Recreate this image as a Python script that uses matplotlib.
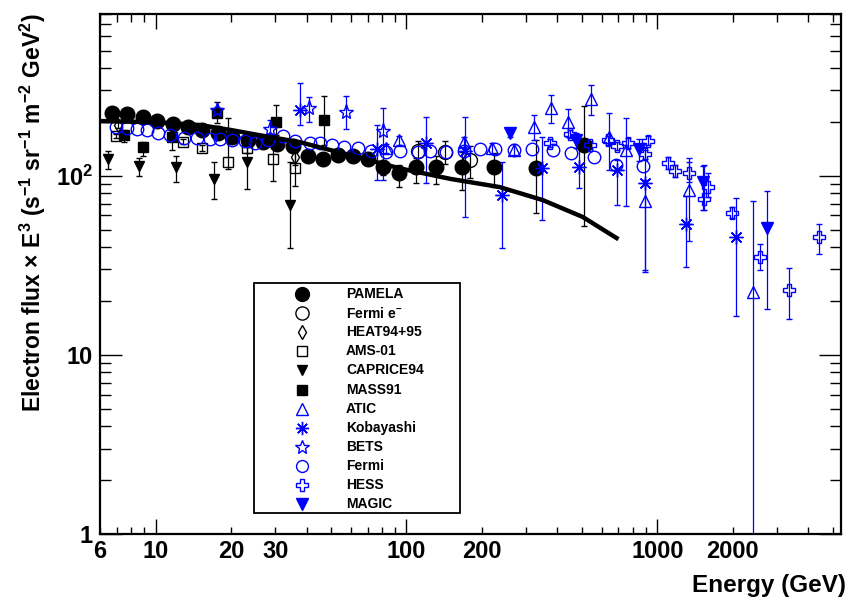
"""Electron spectrum (E^3 x flux) compilation, ROOT-style."""

import matplotlib

matplotlib.use("Agg")
import matplotlib.pyplot as plt
from matplotlib.lines import Line2D
from matplotlib.patches import Rectangle

plt.rcParams["font.family"] = ["Liberation Sans", "DejaVu Sans"]
plt.rcParams["font.weight"] = "bold"
plt.rcParams["mathtext.fontset"] = "custom"
plt.rcParams["mathtext.rm"] = "Liberation Sans:bold"
plt.rcParams["mathtext.bf"] = "Liberation Sans:bold"
plt.rcParams["mathtext.default"] = "rm"

BLUE = "#0000ff"

# ---- data (energy in GeV, E^3 * flux) -------------------------------------
pamela_e = [6.68, 7.71, 8.88, 10.15, 11.69, 13.45, 15.34, 17.67, 20.2, 23.4, 26.8, 30.6, 35.3,
            40.6, 46.6, 53.4, 61.3, 70.3, 80.7, 93, 109, 131, 166.5, 224, 327, 510]
pamela_f = [222.8, 220, 211.7, 202.8, 193.6, 187, 180, 172.4, 165, 158, 154.8, 150.3, 146.5,
            128.8, 123.9, 130.4, 128.8, 123.4, 111.4, 103.9, 111.4, 111.4, 111.6, 111.6, 110, 148.3]
pamela_lo = [3, 3, 3, 3, 3, 3, 3, 3, 3, 4, 4, 4, 5, 6, 7, 7, 8, 9, 10, 17, 20, 22, 28, 25, 48, 96]
pamela_hi = [3, 3, 3, 3, 3, 3, 3, 3, 3, 4, 4, 4, 5, 6, 7, 7, 8, 9, 10, 11, 14, 18, 24, 22, 48, 96]

fermi_em_e = [111.3, 142.1, 178.8]
fermi_em_f = [137.3, 136.1, 122.4]
fermi_em_lo = [20, 20, 25]
fermi_em_hi = [20, 20, 25]

heat_e = [7.1, 35.8]
heat_f = [191.8, 127.2]
heat_lo = [8, 12]
heat_hi = [8, 12]

ams_e = [6.93, 12.9, 15.3, 19.4, 23.1, 29.3, 35.9]
ams_f = [167, 154.8, 143.3, 119.7, 142.1, 123.4, 110]
ams_lo = [4, 5, 6, 10, 8, 30, 22]
ams_hi = [4, 5, 6, 90, 8, 47, 25]

caprice_e = [6.48, 8.61, 12.1, 17.1, 23.1, 34.3]
caprice_f = [123.9, 113.7, 111.4, 95.5, 119.7, 68.7]
caprice_lo = [14.9, 14.1, 18.9, 21.4, 35.7, 29.0]
caprice_hi = [13.4, 11.3, 17.4, 24.2, 35.1, 51.0]

mass_e = [7.5, 8.88, 11.6, 17.6, 30.3, 46.8]
mass_f = [168.6, 145.2, 163.7, 222.8, 198.6, 204.5]
mass_lo = [13.9, 16.4, 24.6, 26.8, 29.9, 56.2]
mass_hi = [11.2, 9.5, 20.8, 35.8, 49.4, 73.8]

atic_e = [83.2, 93.5, 169.7, 220, 268.5, 322.5, 375.8, 440.5, 545.8, 641.5, 747.5, 890, 1336, 2406]
atic_f = [142.1, 158, 154.8, 142.1, 140, 187.6, 237.6, 200, 266.7, 165, 139, 72.2, 83.2, 22.3]
atic_lo = [8, 9, 10, 10, 10, 29.4, 41.6, 34.9, 48.7, 57.4, 71.2, 43.1, 40, 22.0]
atic_hi = [8, 9, 10, 10, 10, 30.4, 44.3, 34.6, 53.8, 57.8, 70, 22.4, 36.5, 50.2]

koba_e = [37.6, 76.4, 120, 171.9, 241.3, 348.3, 486, 690.7, 890, 1301, 2065]
koba_f = [232.4, 140.3, 152.8, 137.3, 78, 110, 112.3, 107.6, 91.4, 53.8, 45.7]
koba_lo = [40.6, 45.7, 61.7, 78.2, 38.6, 53.4, 27.2, 39, 61.6, 22.7, 29.3]
koba_hi = [96.5, 51.5, 59.8, 75.3, 41.7, 55.1, 39.3, 14.8, 53.7, 23.3, 29.4]

bets_e = [17.6, 28.7, 40.8, 57.3, 80.3]
bets_f = [232.9, 181.5, 237.6, 227.6, 178.2]
bets_lo = [10, 19.2, 37.5, 46.1, 83.6]
bets_hi = [10, 22.9, 38.2, 50.7, 59.4]

fermi_e = [6.93, 7.67, 8.43, 9.21, 10.19, 11.41, 13.0, 14.61, 16.46, 18.05, 20.14, 22.7, 24.87,
           28.03, 32.07, 35.9, 41.2, 45.2, 50.5, 56.4, 64.2, 71.9, 82.5, 94.1, 111.3, 123.9,
           143.1, 169.7, 196, 224.8, 268.5, 317.8, 382.8, 451.6, 559.3, 686.8, 876.4]
fermi_f = [187.6, 183.8, 182.1, 179.8, 173.8, 168.7, 161.7, 162.3, 160.2, 159.6, 158.2, 156.2,
           151.6, 158.2, 166.5, 156.2, 152.8, 151.6, 148.3, 145.1, 142.1, 137.9, 136.1, 137.9,
           136.1, 137.9, 136.1, 137.9, 140.9, 140.9, 139.1, 140.4, 139.1, 133.3, 126.6, 114.7, 113.3]

hess_e = [372, 447, 537, 634, 690, 762, 920, 890, 1103, 1180, 1336, 1535, 1592, 1991, 2557, 3346, 4400]
hess_f = [152.8, 170.9, 148.3, 158.2, 146.5, 152.8, 156.7, 132.1, 117.2, 106.7, 103.1, 73.9, 86.8,
          62.2, 35.3, 23.0, 45.3]
hess_lo = [8, 9, 8, 9, 8, 9, 9, 8, 8.6, 8, 10.5, 9.5, 10.4, 4.3, 5.5, 7.2, 8.7]
hess_hi = [8, 9, 8, 9, 8, 9, 9, 8, 10.4, 8, 21.9, 40.8, 16.3, 5.0, 6.3, 7.7, 8.3]

magic_e = [258, 473, 845, 1521, 2742]
magic_f = [174, 158.2, 140.3, 92.6, 50.9]
magic_lo = [10, 15, 20, 28.2, 32.9]
magic_hi = [10, 15, 20, 21.1, 31.6]

model_e = [6, 10, 15, 20, 25, 37.6, 60, 94, 150, 235, 349, 504, 688]
model_f = [202, 199, 192, 180, 170, 154, 130, 110, 96, 86.5, 73.2, 58.9, 44.9]

x_major = [10, 100, 1000]
x_minor = [6, 7, 8, 9, 20, 30, 40, 50, 60, 70, 80, 90, 200, 300, 400, 500, 600, 700, 800, 900,
           2000, 3000, 4000, 5000]
x_minor_labels = {6: "6", 20: "20", 30: "30", 200: "200", 2000: "2000"}
y_major = [1, 10, 100]
y_major_labels = ["1", "10", r"10$^{2}$"]
y_minor = [2, 3, 4, 5, 6, 7, 8, 9, 20, 30, 40, 50, 60, 70, 80, 90, 200, 300, 400, 500, 600, 700, 800]

# ---- series styles -------------------------------------------------------
series = [
    ("PAMELA", pamela_e, pamela_f, pamela_lo, pamela_hi,
     dict(marker="o", ms=10.5, mfc="black", mec="black", color="black")),
    ("Fermi e$^{-}$", fermi_em_e, fermi_em_f, fermi_em_lo, fermi_em_hi,
     dict(marker="o", ms=10, mfc="none", mec="black", color="black")),
    ("HEAT94+95", heat_e, heat_f, heat_lo, heat_hi,
     dict(marker="d", ms=7, mfc="none", mec="black", color="black")),
    ("AMS-01", ams_e, ams_f, ams_lo, ams_hi,
     dict(marker="s", ms=7.7, mfc="none", mec="black", color="black")),
    ("CAPRICE94", caprice_e, caprice_f, caprice_lo, caprice_hi,
     dict(marker="v", ms=7.5, mfc="black", mec="black", color="black")),
    ("MASS91", mass_e, mass_f, mass_lo, mass_hi,
     dict(marker="s", ms=7.2, mfc="black", mec="black", color="black")),
    ("ATIC", atic_e, atic_f, atic_lo, atic_hi,
     dict(marker="^", ms=9, mfc="none", mec=BLUE, color=BLUE)),
    ("Kobayashi", koba_e, koba_f, koba_lo, koba_hi,
     dict(marker=(8, 2, 0), ms=10, mfc="none", mec=BLUE, color=BLUE)),
    ("BETS", bets_e, bets_f, bets_lo, bets_hi,
     dict(marker="*", ms=11, mfc="none", mec=BLUE, color=BLUE)),
    ("Fermi", fermi_e, fermi_f, None, None,
     dict(marker="o", ms=9, mfc="none", mec=BLUE, color=BLUE)),
    ("HESS", hess_e, hess_f, hess_lo, hess_hi,
     dict(marker="P", ms=9, mfc="none", mec=BLUE, color=BLUE)),
    ("MAGIC", magic_e, magic_f, magic_lo, magic_hi,
     dict(marker="v", ms=9, mfc=BLUE, mec=BLUE, color=BLUE)),
]

fig = plt.figure(figsize=(8.56, 6.01), dpi=100)
ax = fig.add_axes([0.1168, 0.1115, 0.8657, 0.8652])
ax.set_xscale("log")
ax.set_yscale("log")

for name, e, f, lo, hi, style in series:
    yerr = None if lo is None else [lo, hi]
    ax.errorbar(e, f, yerr=yerr, ls="none", elinewidth=0.9, capsize=2.5, capthick=0.9,
                mew=1.0, zorder=3, **style)

ax.plot(model_e, model_f, color="black", lw=3.2, zorder=4)

ax.set_xlim(6, 5400)
ax.set_ylim(1, 800)

ax.set_xticks(x_major, labels=[str(v) for v in x_major])
ax.set_xticks(x_minor, labels=[x_minor_labels.get(v, "") for v in x_minor], minor=True)
ax.set_yticks(y_major, labels=y_major_labels)
ax.set_yticks(y_minor, labels=["" for _ in y_minor], minor=True)

ax.tick_params(which="both", direction="in", top=True, right=True, width=1.0,
               labelsize=17, color="black")
ax.tick_params(axis="x", which="major", length=10.8, pad=4)
ax.tick_params(axis="x", which="minor", length=5.4, pad=4)
ax.tick_params(axis="y", which="major", length=15.8, pad=5)
ax.tick_params(axis="y", which="minor", length=7.9, pad=5)
for spine in ax.spines.values():
    spine.set_linewidth(1.6)

fig.text(0.0386, 0.647,
         r"Electron flux $\times$ E$^{3}$ (s$^{-1}$ sr$^{-1}$ m$^{-2}$ GeV$^{2}$)",
         rotation=90, ha="center", va="center", fontsize=16.5, fontweight="bold")
fig.text(0.988, 0.025, "Energy (GeV)", ha="right", va="center", fontsize=17.5,
         fontweight="bold")

# ---- legend box (drawn by hand, ROOT TLegend look) ----------------------
W, H = 856.0, 601.0
box = Rectangle((254 / W, 1 - 513 / H), (460 - 254) / W, (513 - 283) / H,
                transform=fig.transFigure, facecolor="white", edgecolor="black",
                linewidth=1.3, zorder=10)
fig.add_artist(box)
for i, (name, e, f, lo, hi, style) in enumerate(series):
    yy = 1 - (294 + i * 19.1) / H
    st = dict(style)
    st.pop("color")
    st["ms"] = st["ms"] * 0.95
    fig.add_artist(Line2D([302 / W], [yy], transform=fig.transFigure, ls="none",
                          mew=1.0, zorder=11, **st))
    fig.text(346 / W, yy, name, ha="left", va="center", fontsize=10,
             fontweight="bold", zorder=11)

fig.savefig("out.png", dpi=100)
